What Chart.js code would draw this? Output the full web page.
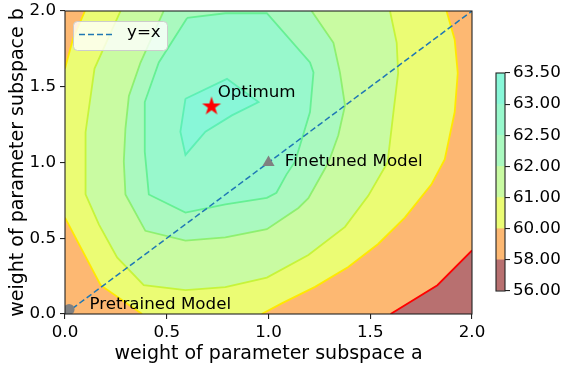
<!DOCTYPE html>
<html>
<head>
<meta charset="utf-8">
<script src="https://cdn.jsdelivr.net/npm/chart.js@4.4.1/dist/chart.umd.min.js"></script>
<style>
  html, body { margin: 0; padding: 0; background: #fff; }
  #wrap { position: relative; width: 562px; height: 368px; }
  #main { position: absolute; left: 0; top: 0; }
  #cbar { position: absolute; left: 470px; top: 0; }
</style>
</head>
<body>
<div id="wrap">
  <canvas id="main" width="562" height="368"></canvas>
  <canvas id="cbar" width="92" height="368"></canvas>
</div>
<script>
// ============================================
// Loss-landscape contour (weights a / b)
// ============================================

// contour levels (colorbar ticks)
const levels = [56, 58, 60, 61, 62, 62.5, 63, 63.5];

// region above each level as [a, b]
const region56 = [[0, 0], [2, 0], [2, 2], [0, 2]];
const region58 = [[0, 0], [1.60, 0], [1.83, 0.19], [2, 0.42], [2, 2], [0, 2]];
const region60 = [[0.098, 2], [1.875, 2], [1.915, 1.81], [1.93, 1.59], [1.915, 1.333], [1.866, 1.02],
  [1.80, 0.854], [1.67, 0.636], [1.539, 0.462], [1.392, 0.31], [1.229, 0.179], [1.065, 0.07],
  [0.967, 0], [0.379, 0], [0.175, 0.19], [0, 0.636], [0, 1.62], [0.04, 1.82]];
const region61 = [[0.273, 2], [1.597, 2], [1.63, 1.79], [1.637, 1.59], [1.614, 1.333], [1.585, 1.0],
  [1.49, 0.78], [1.376, 0.575], [1.196, 0.39], [0.992, 0.24], [0.788, 0.178], [0.592, 0.157],
  [0.387, 0.19], [0.256, 0.373], [0.167, 0.59], [0.101, 0.79], [0.101, 1.2], [0.145, 1.62]];
const region62 = [[0.485, 2], [1.212, 2], [1.319, 1.79], [1.351, 1.595], [1.376, 1.376], [1.343, 1.18],
  [1.30, 1.02], [1.278, 0.96], [1.196, 0.765], [1.147, 0.70], [0.992, 0.56], [0.788, 0.506],
  [0.592, 0.484], [0.395, 0.549], [0.297, 0.789], [0.289, 1.007], [0.297, 1.224], [0.314, 1.44],
  [0.371, 1.66]];
const region625 = [[0.60, 1.954], [0.788, 1.985], [0.992, 1.985], [1.204, 1.66], [1.221, 1.595],
  [1.204, 1.333], [1.131, 1.007], [1.088, 0.92], [1.039, 0.80], [0.992, 0.767], [0.788, 0.724],
  [0.592, 0.669], [0.412, 0.789], [0.392, 1.072], [0.392, 1.399], [0.461, 1.66]];
const region63 = [[0.592, 1.421], [0.796, 1.552], [0.951, 1.399], [0.82, 1.311], [0.69, 1.203],
  [0.592, 1.05], [0.567, 1.203]];

// models
const pretrained = [0.02, 0.03];
const finetuned = [1.0, 1.0];
const optimum = [0.72, 1.37];
const diagonal = [[0, 0], [2, 2]];
const markerNames = ["Pretrained Model", "Finetuned Model", "Optimum"];

// ---- styles / layout ----
const fillColors = ["#b87070", "#fdb872", "#ebfc74", "#c9fba2", "#aaf9bf", "#98f8cc", "#88f7d8"];
const lineColors = [null, "#ff0000", "#ffe800", "#c6f43a", "#8ef070", "#66f094", "#5ef0b4"];
const labelAt = [[0.12, 0.036], [1.08, 0.98], [0.75, 1.435]];   // text baselines, data units
const FONT = { family: "DejaVu Sans", size: 16.7 };
const TITLE_FONT = { family: "DejaVu Sans", size: 19 };
const CLEAR = "rgba(0,0,0,0)";

Chart.defaults.font.family = FONT.family;
Chart.defaults.font.size = FONT.size;
Chart.defaults.color = "#000";

const regions = [region56, region58, region60, region61, region62, region625, region63];
const toXY = (pts) => pts.map(([x, y]) => ({ x, y }));
const closed = (pts) => pts.concat([pts[0]]);
const onEdge = (p, q) =>
  (p[0] === q[0] && (p[0] === 0 || p[0] === 2)) || (p[1] === q[1] && (p[1] === 0 || p[1] === 2));

function starImage(r, color) {
    const c = document.createElement("canvas");
    c.width = c.height = Math.ceil(r * 2) + 2;
    const g = c.getContext("2d");
    g.translate(c.width / 2, c.height / 2);
    g.beginPath();
    for (let k = 0; k < 10; k++) {
        const rad = k % 2 ? r * 0.382 : r;
        const ang = -Math.PI / 2 + k * Math.PI / 5;
        g.lineTo(rad * Math.cos(ang), rad * Math.sin(ang));
    }
    g.closePath();
    g.fillStyle = color;
    g.fill();
    return c;
}

// filled bands
const fillSets = regions.map((pts, i) => ({
    label: "fill " + levels[i],
    data: toXY(closed(pts)),
    fill: "shape",
    backgroundColor: fillColors[i],
    borderWidth: 0,
    pointRadius: 0,
    order: 100 - i,
}));

// contour lines (skip the parts lying on the frame)
const lineSets = regions.slice(1).map((pts, j) => {
    const ring = closed(pts);
    return {
        label: "line " + levels[j + 1],
        data: toXY(ring),
        fill: false,
        borderColor: lineColors[j + 1],
        borderWidth: 1.8,
        pointRadius: 0,
        order: 50 - j,
        segment: {
            borderColor: (ctx) => onEdge(ring[ctx.p0DataIndex], ring[ctx.p1DataIndex]) ? CLEAR : undefined,
        },
    };
});

const markerSets = [
    { label: markerNames[0], data: toXY([pretrained]), showLine: false, pointStyle: "circle",
      pointRadius: 5.5, pointBackgroundColor: "#808080", pointBorderWidth: 0, order: 1 },
    { label: markerNames[1], data: toXY([finetuned]), showLine: false, pointStyle: "triangle",
      pointRadius: 7, pointBackgroundColor: "#808080", pointBorderWidth: 0, order: 1 },
    { label: markerNames[2], data: toXY([optimum]), showLine: false, pointStyle: starImage(10, "#ff0000"),
      pointRadius: 10, order: 1 },
];

const diagSet = {
    label: "y=x",
    data: toXY(diagonal),
    borderColor: "#1f77b4",
    borderWidth: 1.5,
    borderDash: [6, 3],
    pointRadius: 0,
    fill: false,
    order: 2,
};

// frame, annotations and the little legend box
const overlay = {
    id: "overlay",
    afterDatasetsDraw(chart) {
        const { ctx, chartArea: a, scales: { x, y } } = chart;
        ctx.save();
        ctx.strokeStyle = "#222";
        ctx.lineWidth = 1.1;
        ctx.strokeRect(a.left, a.top, a.width, a.height);

        ctx.font = `${FONT.size}px "${FONT.family}"`;
        ctx.fillStyle = "#000";
        ctx.textAlign = "left";
        ctx.textBaseline = "alphabetic";
        markerNames.forEach((name, i) => {
            ctx.fillText(name, x.getPixelForValue(labelAt[i][0]), y.getPixelForValue(labelAt[i][1]));
        });

        // legend
        const bx = a.left + 8, by = a.top + 10, bw = 94, bh = 29;
        ctx.beginPath();
        ctx.roundRect(bx + 0.5, by + 0.5, bw, bh, 4);
        ctx.fillStyle = "rgba(255,255,255,0.8)";
        ctx.fill();
        ctx.strokeStyle = "#cccccc";
        ctx.lineWidth = 1;
        ctx.stroke();
        ctx.beginPath();
        ctx.setLineDash(diagSet.borderDash);
        ctx.strokeStyle = diagSet.borderColor;
        ctx.lineWidth = diagSet.borderWidth;
        ctx.moveTo(bx + 6, by + 13.5);
        ctx.lineTo(bx + 40, by + 13.5);
        ctx.stroke();
        ctx.setLineDash([]);
        ctx.fillStyle = "#000";
        ctx.fillText(diagSet.label, bx + 54, by + 16);
        ctx.restore();
    },
};

new Chart(document.getElementById("main"), {
    type: "line",
    data: { datasets: [...fillSets, ...lineSets, diagSet, ...markerSets] },
    options: {
        responsive: false,
        animation: false,
        events: [],
        layout: { padding: { left: 0, right: 90, top: 8, bottom: 0 } },
        plugins: { legend: { display: false }, tooltip: { enabled: false } },
        scales: {
            x: {
                type: "linear", min: 0, max: 2,
                ticks: { stepSize: 0.5, callback: (v) => v.toFixed(1), padding: 4, maxRotation: 0 },
                grid: { drawOnChartArea: false, tickLength: 5, color: "#222", lineWidth: 1.1 },
                border: { display: false },
                title: { display: true, text: "weight of parameter subspace a", font: TITLE_FONT,
                         padding: { top: 0, bottom: 3 } },
                afterFit: (s) => { s.height = 54; s.paddingLeft = 0; s.paddingRight = 0; },
            },
            y: {
                type: "linear", min: 0, max: 2,
                ticks: { stepSize: 0.5, callback: (v) => v.toFixed(1), padding: 4 },
                grid: { drawOnChartArea: false, tickLength: 5, color: "#222", lineWidth: 1.1 },
                border: { display: false },
                title: { display: true, text: "weight of parameter subspace b", font: TITLE_FONT,
                         padding: { top: 7, bottom: 0 } },
                afterFit: (s) => { s.width = 65; s.paddingTop = 0; s.paddingBottom = 0; },
            },
        },
    },
    plugins: [overlay],
});

// colorbar
const cbarFrame = {
    id: "cbarFrame",
    afterDatasetsDraw(chart) {
        const { ctx, chartArea: a } = chart;
        ctx.save();
        ctx.strokeStyle = "#222";
        ctx.lineWidth = 1.1;
        ctx.strokeRect(a.left, a.top, a.width, a.height);
        ctx.restore();
    },
};

new Chart(document.getElementById("cbar"), {
    type: "bar",
    data: {
        labels: [""],
        datasets: fillColors.map((c, i) => ({
            label: levels[i] + "-" + levels[i + 1],
            data: [1],
            backgroundColor: c,
            borderWidth: 0,
            barPercentage: 1,
            categoryPercentage: 1,
        })),
    },
    options: {
        responsive: false,
        animation: false,
        events: [],
        layout: { padding: { left: 26, right: 0, top: 73, bottom: 77 } },
        plugins: { legend: { display: false }, tooltip: { enabled: false } },
        scales: {
            x: { display: false, stacked: true },
            y: {
                stacked: true, position: "right", min: 0, max: levels.length - 1,
                ticks: { stepSize: 1, callback: (v) => levels[v].toFixed(2), padding: 3 },
                grid: { drawOnChartArea: false, tickLength: 5, color: "#222", lineWidth: 1.1 },
                border: { display: false },
                afterFit: (s) => { s.width = 57; s.paddingTop = 0; s.paddingBottom = 0; },
            },
        },
    },
    plugins: [cbarFrame],
});
</script>
</body>
</html>
